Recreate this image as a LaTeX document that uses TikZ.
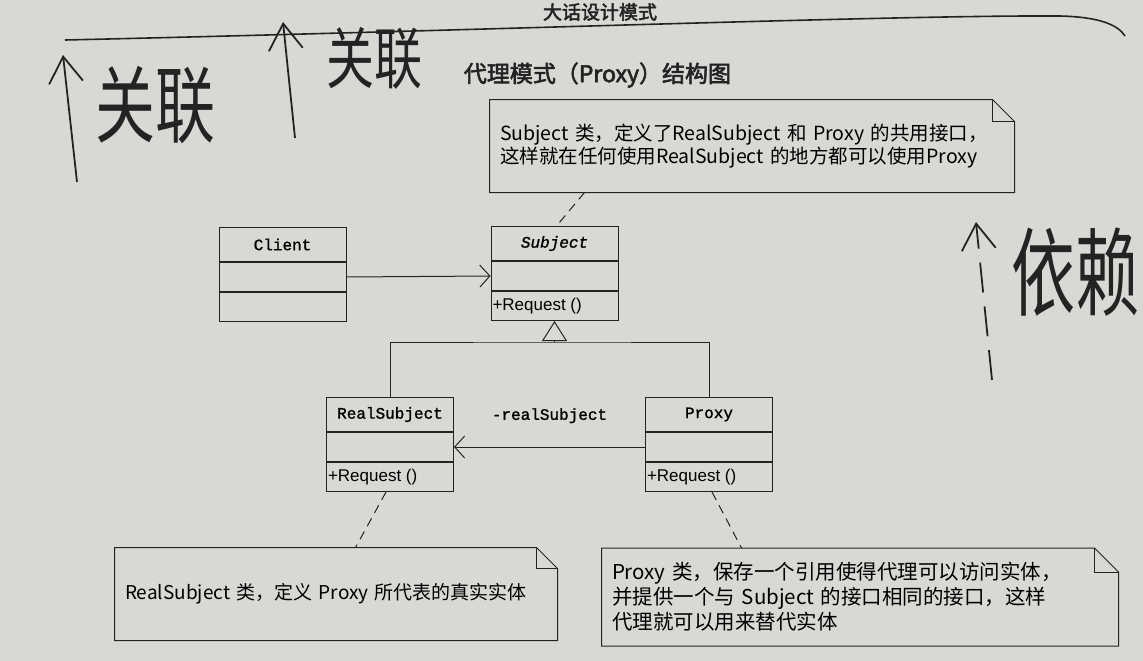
\documentclass[tikz,border=0pt]{standalone}
\usepackage{fontspec}
\setmainfont[FakeBold=1.3]{Liberation Mono}
\newfontfamily\cjk{Noto Sans CJK SC}
\newfontfamily\cjkbold[FakeBold=2.5]{Noto Sans CJK SC}
\newfontfamily\sans{Liberation Sans}
\usetikzlibrary{positioning,arrows.meta}

\definecolor{paper}{RGB}{216,216,213}
\definecolor{ink}{RGB}{35,35,35}

\tikzset{
  clsname/.style={draw=ink, minimum width=127pt, minimum height=34pt, inner sep=0pt, font=\fontsize{16}{19}\selectfont},
  clspart/.style={draw=ink, minimum width=127pt, minimum height=29pt, inner sep=0pt},
  note/.style 2 args={inner xsep=10pt, inner ysep=0pt, align=left, font=\cjk\fontsize{#1}{#2}\selectfont},
  assoc/.style={draw=ink, -{Straight Barb[length=10pt,width=22pt]}},
  dep/.style={draw=ink, dash pattern=on 9pt off 6pt},
  hand/.style={draw=ink, line width=1.8pt, -{Straight Barb[length=26pt,width=34pt]}},
  handtext/.style={text=ink, font=\cjk\fontsize{#1}{#1}\selectfont},
}

% folded corner of a note
\newcommand\notefold[2]{%
  \draw[ink, line width=1pt] (#1.north west) -- ([xshift=-#2]#1.north east) -- ([yshift=-#2]#1.north east)
    -- (#1.south east) -- (#1.south west) -- cycle;
  \draw[ink, line width=0.8pt] ([xshift=-#2]#1.north east) -- ([xshift=-#2,yshift=-#2]#1.north east) -- ([yshift=-#2]#1.north east);
}

\begin{document}
\begin{tikzpicture}[x=1pt, y=-1pt, line width=1pt]
  \fill[paper] (0,0) rectangle (1143,661);
  \useasboundingbox (0,0) rectangle (1143,661);

  % page head
  \node[text=ink, font=\cjkbold\fontsize{19}{19}\selectfont] (head) at (600,12) {大话设计模式};
  \draw[ink, line width=1.6pt] (65,40) .. controls (500,30) and (900,15) .. (1060,16)
    .. controls (1100,17) and (1118,25) .. (1125,36);

  \node[text=ink, font=\cjkbold\fontsize{23}{23}\selectfont, anchor=west] (title) at (460,75) {代理模式（Proxy）结构图};

  % classes
  \foreach \n/\x/\y/\t in {client/282.5/227/Client, subject/554.5/226/\textit{Subject},
      realsubject/390/397/RealSubject, proxy/709/397/Proxy} {
    \node[clsname, anchor=north] (\n) at (\x,\y) {\t};
    \node[clspart, below=0pt of \n] (\n-a) {};
    \node[clspart, below=0pt of \n-a] (\n-m) {};
  }
  \foreach \n in {subject, realsubject, proxy}
    \node[anchor=west, inner sep=1.5pt, font=\sans\fontsize{17}{19}\selectfont] (\n-op) at (\n-m.west) {+Request ()};

  \draw[assoc] (client-a.east) -- (subject-a.west);
  \draw[assoc] (proxy-a.west) -- node[midway, above=20pt, font=\fontsize{16}{19}\selectfont] (rolename) {-realSubject} (realsubject-a.east);

  \coordinate (fork) at (554.5,342);
  \draw[ink] (realsubject.north) |- (fork) -| (proxy.north);
  \draw[ink, -{Triangle[open, length=20pt, width=25pt]}] (fork) -- (subject-m.south);

  % notes
  \node[note={19.5}{21}, text width=504pt, minimum height=92pt] (topnote) at (752,146)
    {Subject 类，定义了RealSubject 和 Proxy 的共用接口，\\这样就在任何使用RealSubject 的地方都可以使用Proxy};
  \node[note={19}{23}, text width=422pt, minimum height=92pt] (leftnote) at (336,594)
    {RealSubject 类，定义 Proxy 所代表的真实实体};
  \node[note={20.5}{25}, text width=496pt, minimum height=97pt] (rightnote) at (860,597)
    {Proxy 类，保存一个引用使得代理可以访问实体，\\并提供一个与 Subject 的接口相同的接口，这样\\代理就可以用来替代实体};
  \notefold{topnote}{22pt}
  \notefold{leftnote}{21pt}
  \notefold{rightnote}{24pt}

  \draw[dep] ([xshift=95pt]topnote.south west) -- ([xshift=2pt]subject.north);
  \draw[dep] ([xshift=-4pt]realsubject-m.south) -- ([xshift=241pt]leftnote.north west);
  \draw[dep] ([xshift=3pt]proxy-m.south) -- ([xshift=140pt]rightnote.north west);

  % handwritten marks
  \coordinate (h1s) at (77,182);  \coordinate (h1e) at (63,55);
  \coordinate (h2s) at (295,138); \coordinate (h2e) at (283,22);
  \coordinate (h3s) at (992,380); \coordinate (h3e) at (976,222);
  \draw[hand] (h1s) -- (h1e);
  \draw[hand] (h2s) -- (h2e);
  \draw[hand, dash pattern=on 30pt off 14pt] (h3s) -- (h3e);
  \node[handtext=60, yscale=1.4] (hw1) at (155,105) {关联};
  \node[handtext=48, yscale=1.4] (hw2) at (374,58) {关联};
  \node[handtext=64, yscale=1.5] (hw3) at (1075,272) {依赖};
\end{tikzpicture}
\end{document}
